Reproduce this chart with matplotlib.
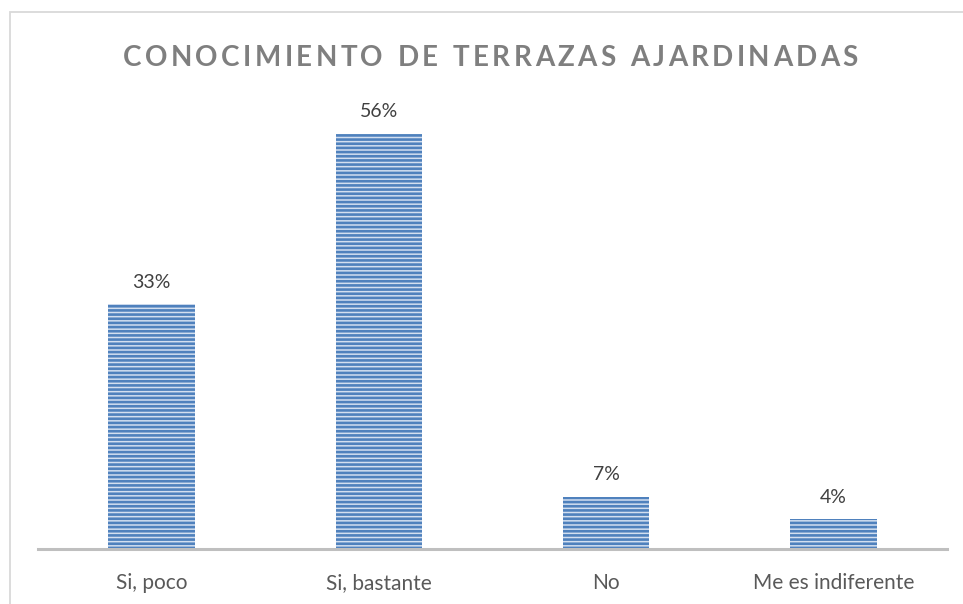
import matplotlib
matplotlib.use("Agg")
import matplotlib.pyplot as plt
from matplotlib.patches import Rectangle

# =========================
# DATA
# =========================
categories = ["Si, poco", "Si, bastante", "No", "Me es indiferente"]
percent = [33, 56, 7, 4]
title = "CONOCIMIENTO DE TERRAZAS AJARDINADAS"

BAR_FILL = "#d3dff0"
BAR_LINE = "#4f81bd"
TITLE_GRAY = "#7f7f7f"
LABEL_GRAY = "#404040"
TICK_GRAY = "#595959"

plt.rcParams["font.family"] = ["Lato", "DejaVu Sans"]
plt.rcParams["hatch.linewidth"] = 1.9

W, H = 963, 604
fig = plt.figure(figsize=(W / 100, H / 100), dpi=100)

# outer chart frame (runs off the right/bottom edge)
fig.patches.append(Rectangle((10 / W, -0.1), 1.2, 1 - 12 / H + 0.1,
                             transform=fig.transFigure, fill=False,
                             edgecolor="#d9d9d9", linewidth=1.3))

ax = fig.add_axes([38 / W, 1 - 549 / H, (947 - 38) / W, (549 - 104) / H])

x = range(len(categories))
bars = ax.bar(x, percent, width=0.38, color=BAR_FILL, edgecolor=BAR_LINE,
              hatch="----", linewidth=0)

for b, v in zip(bars, percent):
    ax.annotate(f"{v}%", (b.get_x() + b.get_width() / 2, v),
                xytext=(0, 16), textcoords="offset points",
                ha="center", va="center", fontsize=14, color=LABEL_GRAY)

ax.set_xlim(-0.5, len(categories) - 0.5)
ax.set_ylim(0, 60)
ax.set_xticks(list(x))
ax.set_xticklabels(categories, fontsize=15, color=TICK_GRAY)
ax.tick_params(axis="x", length=0, pad=17)
ax.set_yticks([])
for side in ["top", "right", "left"]:
    ax.spines[side].set_visible(False)
ax.spines["bottom"].set_color("#bfbfbf")
ax.spines["bottom"].set_linewidth(2.2)

# title with widened letter spacing, one glyph at a time
renderer = fig.canvas.get_renderer()
x0, x1 = 123, 858
space_w = 8
pieces = []
for ch in title:
    t = fig.text(0, 0, ch, fontsize=20, fontweight="bold", color=TITLE_GRAY,
                 ha="left", va="center_baseline")
    w = space_w if ch == " " else t.get_window_extent(renderer).width
    pieces.append((t, w))
tracking = ((x1 - x0) - sum(w for _, w in pieces)) / (len(pieces) - 1)
xpos = x0
for t, w in pieces:
    t.set_position((xpos / W, 1 - 56 / H))
    xpos += w + tracking

fig.savefig("out.png", dpi=100)
